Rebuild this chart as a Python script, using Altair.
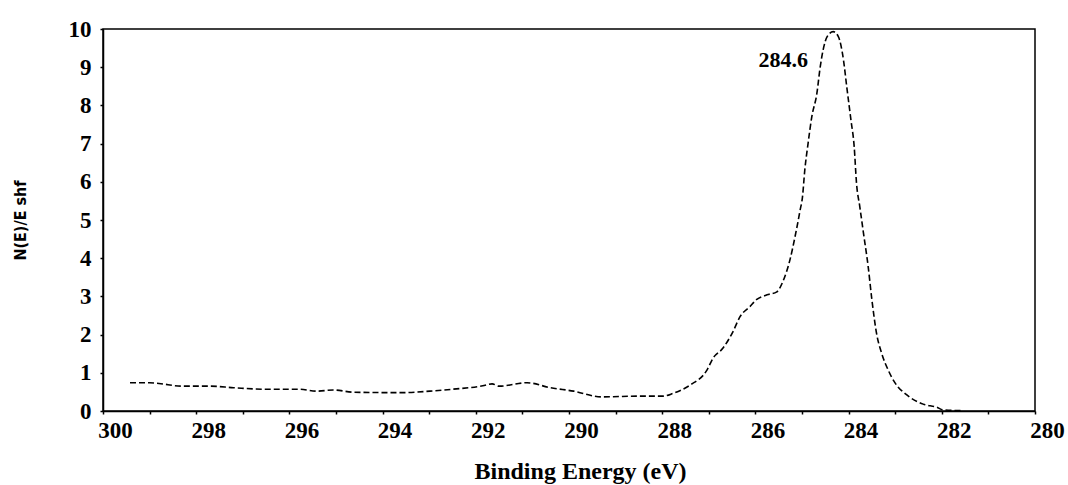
import altair as alt
import pandas as pd

energy = [299.42, 299.0, 298.8, 298.3, 297.7, 297.2, 296.5, 295.8, 295.4, 295.06,
          294.6, 293.6, 292.98, 292.5, 291.85, 291.65, 291.5, 290.9, 290.4, 289.9,
          289.3, 288.48, 287.98, 287.77, 287.4, 287.04, 286.91, 286.7, 286.48, 286.33,
          286.12, 285.97, 285.75, 285.54, 285.41, 285.26, 285.15, 285.04, 284.99, 284.94,
          284.87, 284.79, 284.68, 284.61, 284.46, 284.33, 284.22, 284.11, 284.04, 283.95,
          283.88, 283.83, 283.76, 283.68, 283.58, 283.5, 283.4, 283.29, 283.15, 283.0,
          282.75, 282.4, 282.11, 281.97, 281.55]
intensity = [0.74, 0.74, 0.72, 0.65, 0.65, 0.61, 0.57, 0.57, 0.52, 0.55,
             0.49, 0.48, 0.52, 0.57, 0.66, 0.71, 0.65, 0.74, 0.61, 0.52,
             0.37, 0.39, 0.39, 0.46, 0.68, 1.07, 1.38, 1.64, 2.08, 2.47,
             2.73, 2.92, 3.04, 3.12, 3.39, 3.95, 4.56, 5.26, 5.6, 6.31,
             7.0, 7.7, 8.32, 9.0, 9.8, 9.93, 9.8, 9.19, 8.49, 7.62,
             6.92, 5.96, 5.35, 4.65, 3.78, 2.91, 2.03, 1.51, 1.07, 0.73,
             0.42, 0.18, 0.1, 0.03, 0.01]

peak_label = ["284.6"]
peak_label_pos = [284.87]
peak_label_y = [9.2]

x_ticks = list(range(280, 301))
y_ticks = list(range(0, 11))

df = pd.DataFrame({"E": energy, "I": intensity})
ann = pd.DataFrame({"E": peak_label_pos, "I": peak_label_y, "t": peak_label})

SERIF = "Liberation Serif"

xscale = alt.Scale(domain=[280, 300], reverse=True, nice=False, zero=False)
yscale = alt.Scale(domain=[0, 10], nice=False)

xaxis = alt.Axis(values=x_ticks, title="Binding Energy (eV)",
                 labelExpr="datum.value % 2 == 0 ? datum.label : ''",
                 labelOffset=12, labelFlush=False, labelOverlap=False,
                 grid=False, tickSize=3,
                 labelPadding=5, titleX=477, titleY=60,
                 titleFontSize=24,
                 titleBaseline="middle", titleAlign="center")
yaxis = alt.Axis(values=y_ticks, tickCount=11, title="N(E)/E shf", grid=False,
                 format="d", labelExpr="datum.label",
                 tickSize=3, labelPadding=9, labelFlush=False,
                 labelOverlap=False,
                 titleFont="DejaVu Sans Condensed", titleFontSize=16,
                 titleFontWeight="bold", titleAngle=-90,
                 titleX=-83, titleY=191, titleAlign="center",
                 titleBaseline="middle")

line = alt.Chart(df).mark_line(
    color="black", strokeWidth=1.6, strokeDash=[6, 3], interpolate="monotone"
).encode(
    x=alt.X("E:Q", scale=xscale, axis=xaxis),
    y=alt.Y("I:Q", scale=yscale, axis=yaxis),
)

text = alt.Chart(ann).mark_text(
    align="right", baseline="middle", font=SERIF, fontSize=22,
    fontWeight="bold", color="black"
).encode(
    x=alt.X("E:Q", scale=xscale, axis=xaxis),
    y=alt.Y("I:Q", scale=yscale, axis=yaxis),
    text="t:N",
)

chart = alt.layer(line, text).properties(
    width=932, height=382,
    autosize=alt.AutoSizeParams(type="none"),
    padding={"left": 103, "top": 29, "right": 33, "bottom": 74},
    background="white",
).configure_view(
    stroke="black", strokeWidth=1.5
).configure_axis(
    domainColor="black", domainWidth=1.5, tickColor="black", tickWidth=1.5,
    labelFont=SERIF, labelFontSize=23, labelFontWeight="bold", labelColor="black",
    titleFont=SERIF, titleFontSize=23, titleFontWeight="bold", titleColor="black",
)

chart.save("out.html", embed_options={"renderer": "svg", "actions": False})
